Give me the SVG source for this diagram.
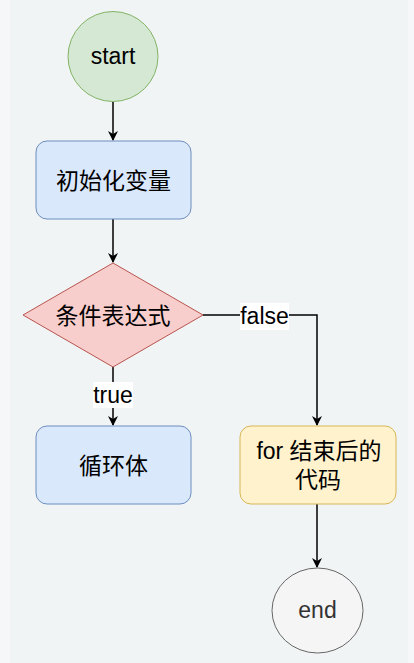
<svg xmlns="http://www.w3.org/2000/svg" width="414" height="663" viewBox="0 0 414 663">
<defs>
<marker id="arr" viewBox="0 0 10 10" refX="9" refY="5" markerWidth="10" markerHeight="10" markerUnits="userSpaceOnUse" orient="auto">
<path d="M0,0 L10,5 L0,10 L3,5 Z" fill="#000"/>
</marker>
</defs>
<style>
text{font-family:"Liberation Sans","Noto Sans CJK SC",sans-serif;font-size:23px;text-anchor:middle;fill:#000}
.edge{fill:none;stroke:#000;stroke-width:1.5}
.lbl{fill:#fff}
</style>
<rect x="0" y="0" width="414" height="663" fill="#f5f7f8"/>
<rect x="10" y="0" width="398" height="663" fill="#f1f4f4"/>
<g id="edges">
<line class="edge" x1="113" y1="102" x2="113" y2="140" marker-end="url(#arr)"/>
<line class="edge" x1="113" y1="219" x2="113" y2="262" marker-end="url(#arr)"/>
<line class="edge" x1="113" y1="367" x2="113" y2="425" marker-end="url(#arr)"/>
<polyline class="edge" points="203,315 317,315 317,425" marker-end="url(#arr)"/>
<line class="edge" x1="317" y1="504" x2="317" y2="567" marker-end="url(#arr)"/>
<rect class="lbl" x="93" y="382" width="40" height="26"/>
<text x="113" y="403">true</text>
<rect class="lbl" x="240" y="303" width="49" height="27"/>
<text x="264.5" y="324">false</text>
</g>
<g id="start">
<circle cx="113" cy="56.5" r="45" fill="#d5e8d4" stroke="#82b366"/>
<text x="113" y="64">start</text>
</g>
<g id="init">
<rect x="36" y="141" width="155" height="78" rx="11" fill="#dae8fc" stroke="#6c8ebf"/>
<text x="113.5" y="189">初始化变量</text>
</g>
<g id="cond">
<polygon points="113,263 203,315 113,367 23,315" fill="#f8cecc" stroke="#b85450"/>
<text x="113" y="324">条件表达式</text>
</g>
<g id="body">
<rect x="36" y="426" width="155" height="78" rx="11" fill="#dae8fc" stroke="#6c8ebf"/>
<text x="113.5" y="474">循环体</text>
</g>
<g id="after">
<rect x="240" y="426" width="156" height="78" rx="11" fill="#fff2cc" stroke="#d6b656"/>
<text x="319" y="459">for 结束后的</text>
<text x="318" y="488">代码</text>
</g>
<g id="end">
<ellipse cx="317.5" cy="610.5" rx="45.5" ry="42.5" fill="#f5f5f5" stroke="#666666"/>
<text x="317.5" y="618" style="fill:#333333">end</text>
</g>
</svg>
